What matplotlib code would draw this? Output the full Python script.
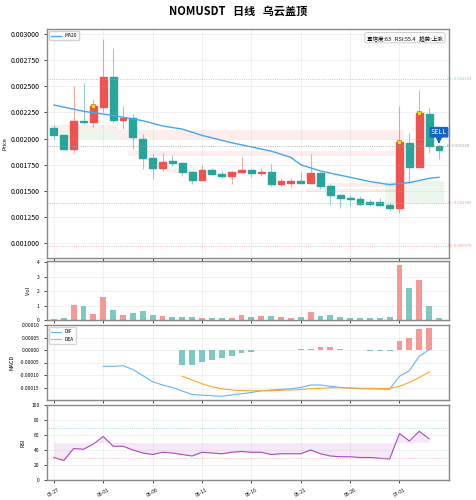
import numpy as np
import matplotlib; matplotlib.use("Agg")
import matplotlib.pyplot as plt
from matplotlib.patches import Rectangle

plt.rcParams['font.family'] = ['Noto Sans CJK SC', 'DejaVu Sans']
plt.rcParams['axes.unicode_minus'] = False

# ---- data ----
opens  = [0.00210,0.00203,0.00190,0.00217,0.00216,0.00230,0.00259,0.00218,0.00220,0.00200,
          0.00181,0.00172,0.00179,0.00177,0.00168,0.00160,0.00170,0.00166,0.00164,0.00168,
          0.00170,0.00167,0.00168,0.00157,0.00158,0.00159,0.00158,0.00167,0.00155,0.00146,
          0.00143,0.00142,0.00139,0.00139,0.00137,0.00134,0.00196,0.00173,0.00223,0.00193]
closes = [0.00203,0.00190,0.00217,0.00216,0.00231,0.00259,0.00218,0.00220,0.00201,0.00181,
          0.00172,0.00178,0.00177,0.00168,0.00160,0.00170,0.00166,0.00164,0.00168,0.00170,
          0.00167,0.00168,0.00157,0.00159,0.00159,0.00158,0.00167,0.00155,0.00146,0.00143,
          0.00142,0.00138,0.00138,0.00137,0.00134,0.00197,0.00173,0.00224,0.00193,0.00189]
highs  = [0.00213,0.00203,0.00250,0.00253,0.00238,0.00295,0.00286,0.00231,0.00223,0.00204,
          0.00185,0.00186,0.00184,0.00178,0.00169,0.00175,0.00172,0.00169,0.00169,0.00182,
          0.00171,0.00172,0.00176,0.00162,0.00162,0.00168,0.00185,0.00168,0.00157,0.00147,
          0.00146,0.00145,0.00142,0.00143,0.00139,0.00231,0.00205,0.00246,0.00229,0.00194]
lows   = [0.00200,0.00189,0.00186,0.00214,0.00211,0.00225,0.00215,0.00209,0.00190,0.00171,
          0.00161,0.00169,0.00174,0.00164,0.00157,0.00160,0.00165,0.00162,0.00157,0.00168,
          0.00163,0.00164,0.00155,0.00155,0.00154,0.00158,0.00158,0.00152,0.00137,0.00134,
          0.00136,0.00137,0.00136,0.00136,0.00131,0.00129,0.00158,0.00173,0.00186,0.00180]
ma20_x = [0, 3, 6, 9, 11, 13, 15, 18, 21, 22, 24, 25, 27, 30, 32, 34, 36, 38, 39]
ma20   = [0.00232,0.00226,0.00222,0.00217,0.00212,0.00209,0.00203,0.00196,0.00190,0.00188,
          0.00182,0.00175,0.00169,0.00163,0.00159,0.00156,0.00158,0.00162,0.00163]
volume = [0.10,0.15,1.05,0.95,0.40,1.60,0.70,0.33,0.48,0.60,0.35,0.27,0.22,0.20,0.20,0.17,
          0.14,0.14,0.17,0.33,0.20,0.27,0.30,0.20,0.14,0.22,0.55,0.27,0.33,0.22,0.15,0.13,
          0.13,0.15,0.20,3.85,2.25,2.80,0.95,0.15]
dif_x = [5, 6, 7, 8, 10, 11, 12, 14, 16, 17, 19, 20, 21, 22, 24, 25, 26, 27, 28, 29, 31, 34, 35, 36, 37, 38]
dif   = [-6.5e-5,-6.5e-5,-6.3e-5,-7.8e-5,-1.27e-4,-1.4e-4,-1.5e-4,-1.78e-4,-1.83e-4,-1.85e-4,
         -1.75e-4,-1.7e-4,-1.63e-4,-1.6e-4,-1.55e-4,-1.5e-4,-1.4e-4,-1.4e-4,-1.45e-4,-1.5e-4,
         -1.55e-4,-1.57e-4,-1.05e-4,-8.3e-5,-2.5e-5,1e-6]
dea   = [-1.05e-4,-1.2e-4,-1.35e-4,-1.47e-4,-1.55e-4,-1.6e-4,-1.62e-4,-1.63e-4,-1.63e-4,-1.63e-4,
         -1.61e-4,-1.6e-4,-1.58e-4,-1.55e-4,-1.53e-4,-1.51e-4,-1.51e-4,-1.52e-4,-1.53e-4,-1.53e-4,
         -1.54e-4,-1.54e-4,-1.45e-4,-1.3e-4,-1.1e-4,-8.8e-5]
hist  = [-5.8e-5,-5.8e-5,-4.8e-5,-3.8e-5,-3.2e-5,-2.2e-5,-1.2e-5,-6e-6,0,-1e-6,0,2e-6,4e-6,6e-6,
         1.2e-5,1.1e-5,4e-6,0,-1e-6,-2e-6,-2e-6,-2e-6,3.8e-5,4.8e-5,8.6e-5,8.8e-5]
rsi = [30,26,42,41,48,58,45,45,40,36,34,37,36,34,32,37,36,35,37,38,37,37,34,35,35,35,40,35,
       32,31,31,30,30,29,28,62,52,65,55]
tick_labels = ["05-27","06-01","06-06","06-11","06-16","06-21","06-26","07-01"]
levels = {"SL": 0.002564, "E": 0.001928, "T1": 0.001386, "T2": 0.000979}
pattern_idx = [4, 35, 37]

UP, DN = "#ef5350", "#26a69a"
n = len(opens)
x = np.arange(n)
cols = [UP if c >= o else DN for o, c in zip(opens, closes)]

fig = plt.figure(figsize=(4.77, 5.0), dpi=100)
L, W = 0.0985, 0.8425
ax = fig.add_axes([L, 0.484, W, 0.458])
av = fig.add_axes([L, 0.36, W, 0.118], sharex=ax)
am = fig.add_axes([L, 0.20, W, 0.15], sharex=ax)
ar = fig.add_axes([L, 0.04, W, 0.15], sharex=ax)
fig.suptitle("NOMUSDT   日线   乌云盖顶", fontsize=8, fontweight="bold", y=0.99)

# zones
zones = [(-0.5, 6.5, 0.00209, 0.00213, UP), (0.5, 6.5, 0.00200, 0.00209, "#4caf50"),
         (6.5, 35.5, 0.00200, 0.00208, UP), (7.5, 34.5, 0.00183, 0.00188, UP),
         (11.5, 14.5, 0.00167, 0.00171, UP), (26.5, 34.5, 0.00154, 0.00158, UP),
         (25.5, 34.5, 0.00149, 0.00152, UP), (33.5, 39.5, 0.00138, 0.00159, "#4caf50")]
for x0, x1, y0, y1, c in zones:
    ax.add_patch(Rectangle((x0, y0), x1 - x0, y1 - y0, color=c, alpha=0.1, lw=0))

for i in range(n):
    ax.vlines(x[i], lows[i], highs[i], color=cols[i], lw=0.8, alpha=0.5)
    lo, hi = sorted([opens[i], closes[i]])
    ax.add_patch(Rectangle((x[i] - 0.35, lo), 0.7, max(hi - lo, 0.000008), color=cols[i]))
ax.plot(ma20_x, ma20, color="#42a5f5", lw=1, label="MA20")
for i in pattern_idx:
    ax.plot(x[i], max(opens[i], closes[i]), "s", color="#ffd600", ms=3, mec="#8d6e00", mew=0.4)

lc = {"SL": "#80cbc4", "E": "#9e9e9e", "T1": "#ef9a9a", "T2": "#ef9a9a"}
for k, v in levels.items():
    ax.axhline(v, color=lc[k], lw=0.6, ls=":")
    ax.text(39.8, v, f"{k}: {v:.6f}", color=lc[k], fontsize=3, va="center")
ax.annotate("", xy=(39, 0.00195), xytext=(39, 0.00200),
            arrowprops=dict(arrowstyle="-|>", color="#1565c0", lw=0.8))
ax.text(39, 0.00206, "SELL", color="white", fontsize=5, ha="center", va="center",
        bbox=dict(boxstyle="round,pad=0.2", fc="#1565c0", ec="none"))
ax.text(0.985, 0.975, "置信度:63   RSI:55.4   趋势:上涨", transform=ax.transAxes, fontsize=4,
        ha="right", va="top", bbox=dict(boxstyle="round,pad=0.4", fc="white", ec="#bbbbbb", lw=0.5))
ax.legend(loc="upper left", fontsize=3.5, framealpha=0.9)
ax.set_ylim(0.00086, 0.003045)
ax.set_yticks(np.arange(0.001, 0.00301, 0.00025))
ax.yaxis.set_major_formatter(plt.FuncFormatter(lambda v, p: f"{v:.6f}"))
ax.set_ylabel("Price", fontsize=4, labelpad=2)

av.bar(x, volume, color=cols, alpha=0.6, width=0.6)
av.set_ylim(0, 4.1)
av.set_ylabel("Vol", fontsize=4)

hx = np.arange(13, 39)
hc = [UP if h >= 0 else DN for h in hist]
am.bar(hx, hist, color=hc, alpha=0.6, width=0.6)
am.plot(dif_x, dif, color="#64b5f6", lw=0.8, label="DIF")
am.plot(hx, dea, color="#ffa726", lw=0.8, label="DEA")
am.set_ylim(-0.0002, 0.0001)
am.set_yticks([-0.00015, -0.0001, -0.00005, 0, 0.00005, 0.0001])
am.yaxis.set_major_formatter(plt.FuncFormatter(lambda v, p: f"{v:.5f}"))
am.legend(loc="upper left", fontsize=3.5)
am.set_ylabel("MACD", fontsize=4)

rx = np.arange(len(rsi))
ar.plot(rx, rsi, color="#ab47bc", lw=0.8)
ar.fill_between(rx, 50, rsi, color="#ce93d8", alpha=0.2, lw=0)
ar.axhline(70, color="#80cbc4", lw=0.5, ls=":")
ar.axhline(30, color="#ef9a9a", lw=0.5, ls=":")
ar.set_ylim(0, 100)
ar.set_ylabel("RSI", fontsize=4)

for a in (ax, av, am, ar):
    a.grid(alpha=0.3, lw=0.4)
    a.tick_params(labelsize=3.5, length=2, width=0.5)
    for s in a.spines.values():
        s.set_color("#888888"); s.set_linewidth(1)
ax.tick_params(labelsize=5)
for a in (ax, av, am):
    plt.setp(a.get_xticklabels(), visible=False)
ar.set_xlim(-0.7, 40)
ar.set_xticks(np.arange(0, 36, 5))
ar.set_xticklabels(tick_labels, rotation=30)
fig.savefig("out.png", dpi=100)
